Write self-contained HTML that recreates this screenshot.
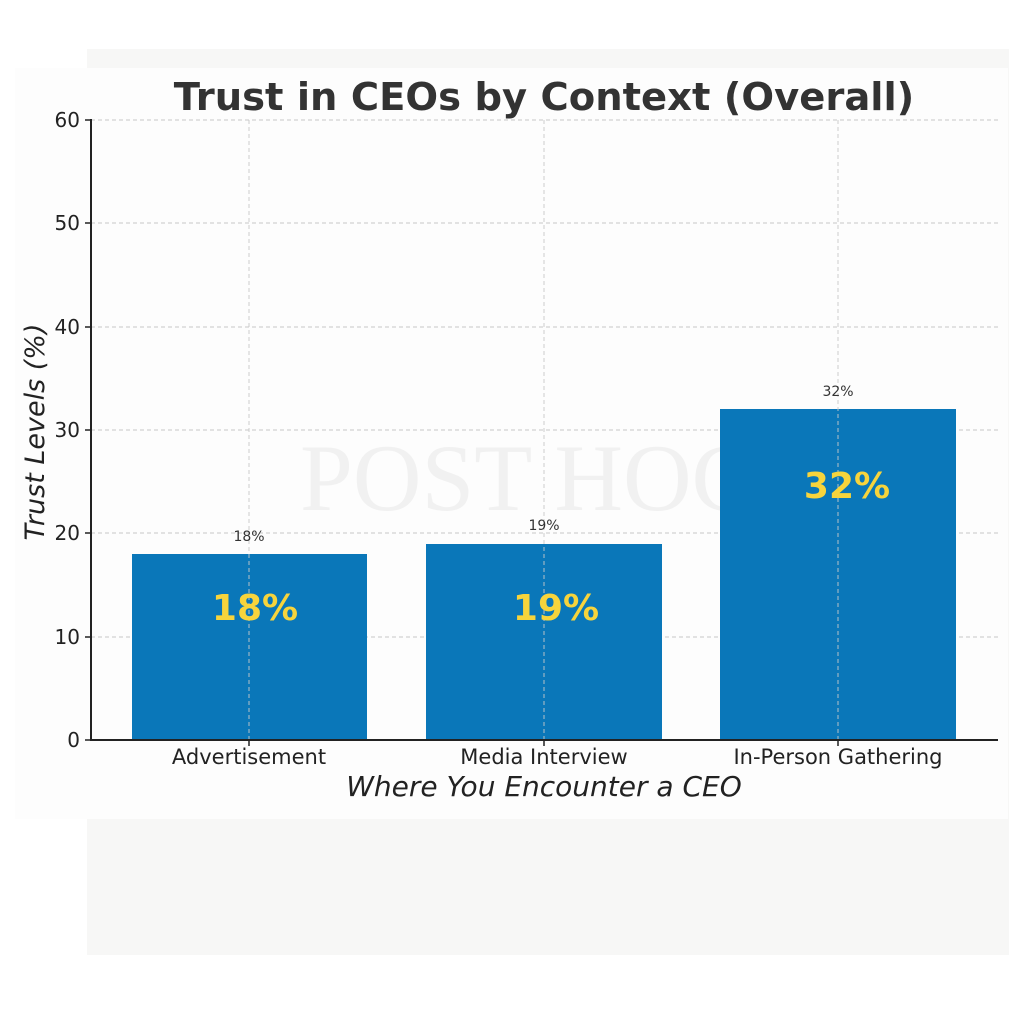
<!DOCTYPE html>
<html><head><style>
body{margin:0;width:1024px;height:1024px;background:#fff;position:relative;overflow:hidden;font-family:"DejaVu Sans","Liberation Sans",sans-serif}
</style></head><body>
<div style="position:absolute;left:87px;top:49px;width:922px;height:906px;background:#f7f7f6"></div>
<div style="position:absolute;left:15px;top:68px;width:993px;height:751px;background:#fdfdfd"></div>
<svg style="position:absolute;left:0;top:0" width="1024" height="1024">
<g font-family="Liberation Serif,serif" fill="#f1f1f1" font-size="95"><text x="300" y="510">POST HOC</text></g>
<g stroke="#c8c8c8" stroke-dasharray="4,3" stroke-width="1">
<line x1="91" x2="998" y1="120" y2="120"/><line x1="91" x2="998" y1="223" y2="223"/><line x1="91" x2="998" y1="327" y2="327"/><line x1="91" x2="998" y1="430" y2="430"/><line x1="91" x2="998" y1="533" y2="533"/><line x1="91" x2="998" y1="637" y2="637"/>
</g>
<rect x="132" y="554" width="235" height="186" fill="#0a77b9"/>
<rect x="426" y="544" width="236" height="196" fill="#0a77b9"/>
<rect x="720" y="409" width="236" height="331" fill="#0a77b9"/>
<g stroke="#c8c8c8" stroke-dasharray="4,3" stroke-width="1" opacity="0.9">
<line x1="249" x2="249" y1="120" y2="740"/><line x1="544" x2="544" y1="120" y2="740"/><line x1="838" x2="838" y1="120" y2="740"/>
</g>
<g stroke="#222" stroke-width="2"><line x1="91" y1="119" x2="91" y2="741"/><line x1="90" y1="740" x2="998" y2="740"/></g>
<g stroke="#222" stroke-width="1.5">
<line x1="85" x2="91" y1="120" y2="120"/><line x1="85" x2="91" y1="223" y2="223"/><line x1="85" x2="91" y1="327" y2="327"/><line x1="85" x2="91" y1="430" y2="430"/><line x1="85" x2="91" y1="533" y2="533"/><line x1="85" x2="91" y1="637" y2="637"/><line x1="85" x2="91" y1="740" y2="740"/>
<line x1="249" x2="249" y1="740" y2="746"/><line x1="544" x2="544" y1="740" y2="746"/><line x1="838" x2="838" y1="740" y2="746"/>
</g>
<g font-size="20" fill="#222" text-anchor="end">
<text x="80" y="127">60</text><text x="80" y="230">50</text><text x="80" y="334">40</text><text x="80" y="437">30</text><text x="80" y="540">20</text><text x="80" y="644">10</text><text x="80" y="747">0</text>
</g>
<g font-size="21" fill="#222" text-anchor="middle">
<text x="249" y="764">Advertisement</text><text x="544" y="764">Media Interview</text><text x="838" y="764">In-Person Gathering</text>
</g>
<g font-size="14" fill="#333" text-anchor="middle">
<text x="249" y="541">18%</text><text x="544" y="530">19%</text><text x="838" y="396">32%</text>
</g>
<g font-size="36" font-weight="bold" fill="#f7d43c" text-anchor="middle">
<text x="255" y="620">18%</text><text x="556" y="620">19%</text><text x="847" y="498">32%</text>
</g>
<text x="544" y="110" font-size="38.5" font-weight="bold" fill="#333" text-anchor="middle">Trust in CEOs by Context (Overall)</text>
<text x="544" y="796" font-size="28" font-style="italic" fill="#222" text-anchor="middle">Where You Encounter a CEO</text>
<text transform="translate(44,432) rotate(-90)" font-size="27" font-style="italic" fill="#222" text-anchor="middle">Trust Levels (%)</text>
</svg>
</body></html>
